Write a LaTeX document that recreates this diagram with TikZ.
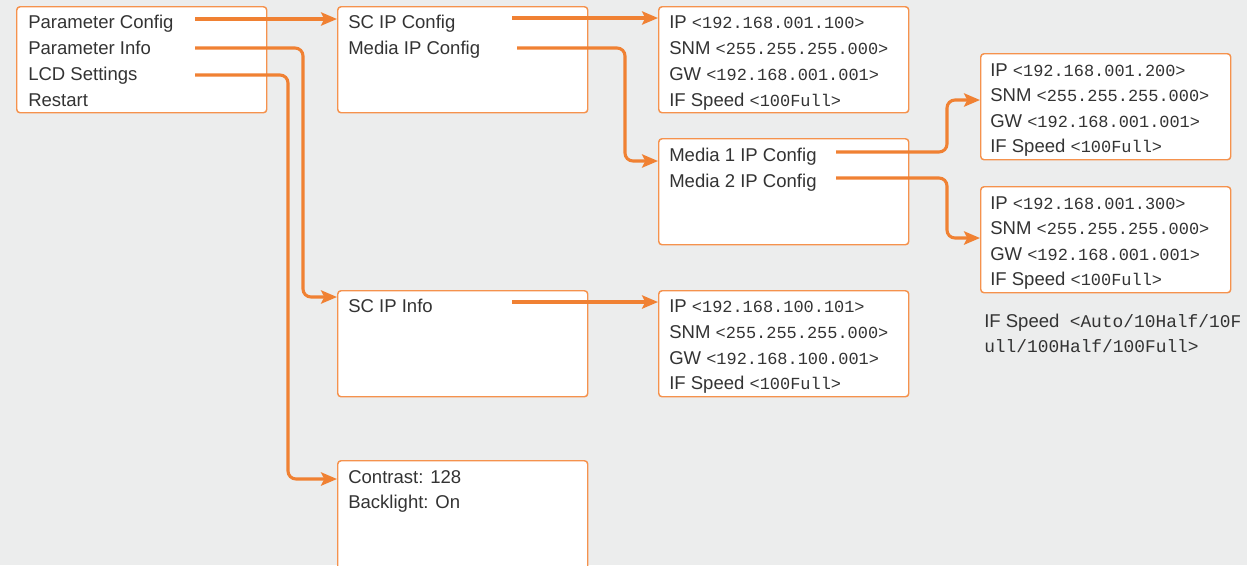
\documentclass[tikz,border=0pt]{standalone}
\usepackage{fontspec}
\setmainfont{Liberation Sans}
\setmonofont{Liberation Mono}
\usetikzlibrary{arrows.meta}
\definecolor{bg}{HTML}{ECEDED}
\definecolor{orb}{HTML}{F5924D}
\definecolor{ora}{HTML}{F08133}
\definecolor{txt}{HTML}{333333}
\newcommand\mv[1]{{\fontsize{12.7}{15}\selectfont\ttfamily #1}}
\newcommand\mvb[1]{{\fontsize{13.4}{16}\selectfont\ttfamily #1}}
\begin{document}
\begin{tikzpicture}[x=0.75pt,y=-0.75pt,
  box/.style={draw=orb, fill=white, line width=1.1pt, rounded corners=2.5pt,
    anchor=north west, inner sep=0pt, minimum width=187.5pt, minimum height=79.5pt},
  lbl/.style={anchor=base west, inner sep=0pt, text=txt, font=\fontsize{13.9}{16}\selectfont},
  arr/.style={draw=ora, line width=2.3pt, rounded corners=6pt,
    -{Stealth[length=12pt,width=10pt,inset=2.5pt]}}]
\useasboundingbox (0,0) rectangle (1247,565);
\fill[bg] (0,0) rectangle (1247,565);
% boxes
\node[box] (A) at (16,6) {};
\node[box] (B) at (337,6) {};
\node[box] (C) at (658,6) {};
\node[box] (D) at (658,138) {};
\node[box] (E) at (980,53) {};
\node[box] (F) at (980,186) {};
\node[box] (G) at (337,290) {};
\node[box] (H) at (658,290) {};
\node[box, minimum height=84pt] (I) at (337,460) {};
% texts box A
\node[lbl] (a1) at (28,28) {Parameter Config};
\node[lbl] (a2) at (28,54) {Parameter Info};
\node[lbl] (a3) at (28,80) {LCD Settings};
\node[lbl] (a4) at (28,106) {Restart};
% box B
\node[lbl] (b1) at (348,28) {SC IP Config};
\node[lbl] (b2) at (348,54) {Media IP Config};
% box C
\node[lbl] (c1) at (669,28) {IP \mv{<192.168.001.100>}};
\node[lbl] (c2) at (669,54) {SNM \mv{<255.255.255.000>}};
\node[lbl] (c3) at (669,80) {GW \mv{<192.168.001.001>}};
\node[lbl] (c4) at (669,106) {IF Speed \mv{<100Full>}};
% box D
\node[lbl] (d1) at (669,161) {Media 1 IP Config};
\node[lbl] (d2) at (669,187) {Media 2 IP Config};
% box E
\node[lbl] (e1) at (990,76) {IP \mv{<192.168.001.200>}};
\node[lbl] (e2) at (990,101) {SNM \mv{<255.255.255.000>}};
\node[lbl] (e3) at (990,127) {GW \mv{<192.168.001.001>}};
\node[lbl] (e4) at (990,152) {IF Speed \mv{<100Full>}};
% box F
\node[lbl] (f1) at (990,209) {IP \mv{<192.168.001.300>}};
\node[lbl] (f2) at (990,234) {SNM \mv{<255.255.255.000>}};
\node[lbl] (f3) at (990,260) {GW \mv{<192.168.001.001>}};
\node[lbl] (f4) at (990,285) {IF Speed \mv{<100Full>}};
% box G
\node[lbl] (g1) at (348,312) {SC IP Info};
% box H
\node[lbl] (h1) at (669,312) {IP \mv{<192.168.100.101>}};
\node[lbl] (h2) at (669,338) {SNM \mv{<255.255.255.000>}};
\node[lbl] (h3) at (669,364) {GW \mv{<192.168.100.001>}};
\node[lbl] (h4) at (669,389) {IF Speed \mv{<100Full>}};
% box I
\node[lbl] (i1) at (348,483) {Contrast: 128};
\node[lbl] (i2) at (348,508) {Backlight: On};
% note
\node[lbl] (n1) at (984,327) {IF Speed\ \ \mvb{<Auto/10Half/10F}};
\node[lbl] (n2) at (984,352) {\mvb{ull/100Half/100Full>}};
% connector starts and bends
\coordinate (s1) at (195,19);
\coordinate (s2) at (195,48);
\coordinate (k2) at (303,297);
\coordinate (s3) at (195,75);
\coordinate (k3) at (288,479);
\coordinate (s4) at (512,18);
\coordinate (s5) at (517,48);
\coordinate (k5) at (625,161);
\coordinate (s6) at (512,302);
\coordinate (s7) at (836,152);
\coordinate (k7) at (947,100);
\coordinate (s8) at (836,178);
\coordinate (k8) at (947,238);
% connectors
\draw[arr] (s1) -- (s1 -| B.west);
\draw[arr] (s2) -| (k2) -- (k2 -| G.west);
\draw[arr] (s3) -| (k3) -- (k3 -| I.west);
\draw[arr] (s4) -- (s4 -| C.west);
\draw[arr] (s5) -| (k5) -- (k5 -| D.west);
\draw[arr] (s6) -- (s6 -| H.west);
\draw[arr] (s7) -| (k7) -- (k7 -| E.west);
\draw[arr] (s8) -| (k8) -- (k8 -| F.west);
\end{tikzpicture}
\end{document}
